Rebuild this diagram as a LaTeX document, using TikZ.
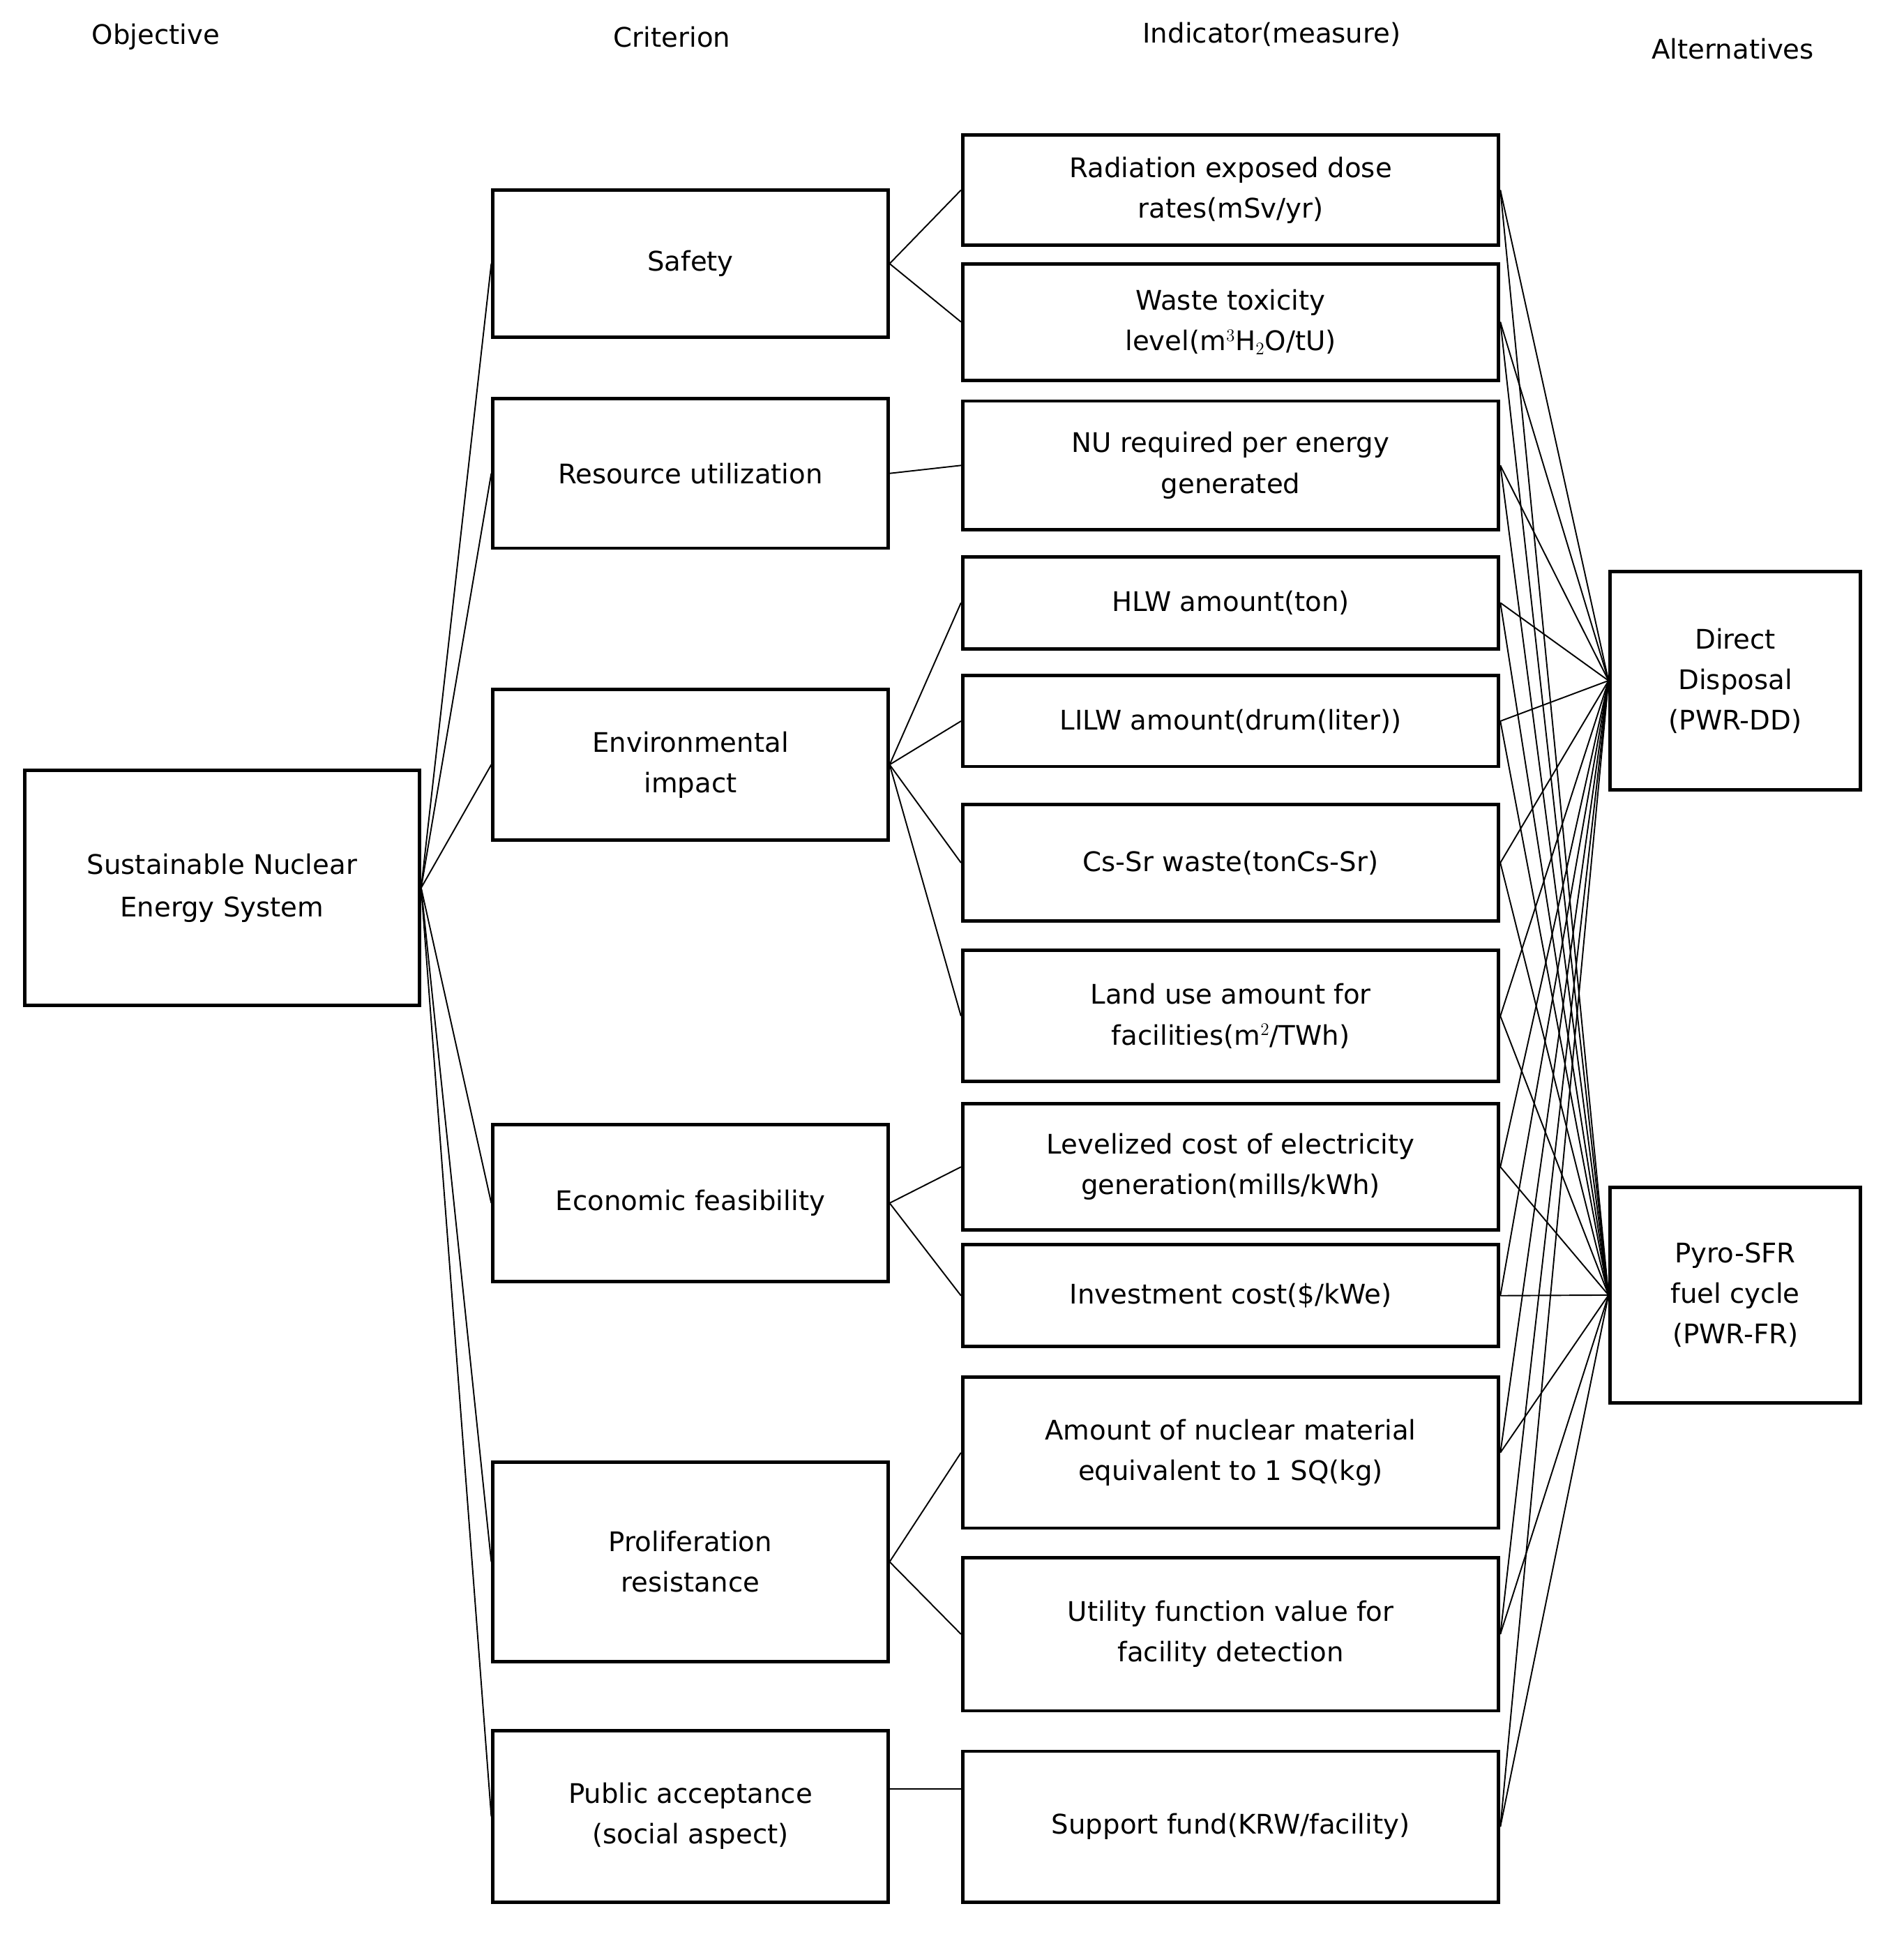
\documentclass[tikz,border=0pt]{standalone}
\usepackage{fontspec}
\setmainfont{DejaVu Sans}
\begin{document}
\begin{tikzpicture}[x=1pt,y=-1pt,
 box/.style={draw,line width=2.8pt,align=center,inner sep=2pt,font=\fontsize{22}{33}\selectfont},
 hd/.style={font=\fontsize{22}{26}\selectfont},
 ln/.style={line width=1.1pt}]
\useasboundingbox (0,0) rectangle (1552,1577);
\node[hd] (h1) at (127,30) {Objective};
\node[hd] (h2) at (548,30) {Criterion};
\node[hd] (h3) at (1037,28) {Indicator(measure)};
\node[hd] (h4) at (1413,40) {Alternatives};
\node[box,minimum width=322pt,minimum height=192pt,font=\fontsize{22}{35}\selectfont] (obj) at (181,724) {Sustainable Nuclear\\Energy System};
\foreach \n/\y/\h/\t in {saf/215/120/Safety, res/386/122/Resource utilization, env/623.5/123/{Environmental\\impact}, eco/981/128/Economic feasibility, pro/1273.5/163/{Proliferation\\resistance}, pub/1481/140/{Public acceptance\\(social aspect)}}
  \node[box,minimum width=322pt,minimum height=\h pt] (\n) at (563,\y) {\t};
\foreach \n/\y/\h/\t in {rad/155/90/{Radiation exposed dose\\rates(mSv/yr)}, was/262.5/95/{Waste toxicity\\level(m$^3$H$_2$O/tU)}, nu/379.5/105/{NU required per energy\\generated}, hlw/491.5/75/HLW amount(ton), lil/588/74/LILW amount(drum(liter)), cs/703.5/95/Cs-Sr waste(tonCs-Sr), lan/828.5/107/{Land use amount for\\facilities(m$^2$/TWh)}, lev/951.5/103/{Levelized cost of electricity\\generation(mills/kWh)}, inv/1056.5/83/{Investment cost(\$/kWe)}, amo/1184.5/123/{Amount of nuclear material\\equivalent to 1 SQ(kg)}, uti/1332.5/125/{Utility function value for\\facility detection}, sup/1489.5/123/{Support fund(KRW/facility)}}
  \node[box,minimum width=437pt,minimum height=\h pt] (\n) at (1003.5,\y) {\t};
\node[box,minimum width=204pt,minimum height=178pt] (dd) at (1415,555) {Direct\\Disposal\\(PWR-DD)};
\node[box,minimum width=204pt,minimum height=176pt] (py) at (1415,1056) {Pyro-SFR\\fuel cycle\\(PWR-FR)};
\foreach \c in {saf,res,env,eco,pro,pub} \draw[ln] (obj.east) -- (\c.west);
\foreach \a/\b in {saf/rad,saf/was,res/nu,env/hlw,env/lil,env/cs,env/lan,eco/lev,eco/inv,pro/amo,pro/uti}
  \draw[ln] (\a.east) -- (\b.west);
\draw[ln] (pub.east|-sup.north) ++(0,32) coordinate (pa) -- (sup.west|-pa);
\foreach \i in {rad,was,nu,hlw,lil,cs,lan,lev,inv,amo,uti,sup} {
  \draw[ln] (\i.east) -- (dd.west);
  \draw[ln] (\i.east) -- (py.west);}
\end{tikzpicture}
\end{document}
